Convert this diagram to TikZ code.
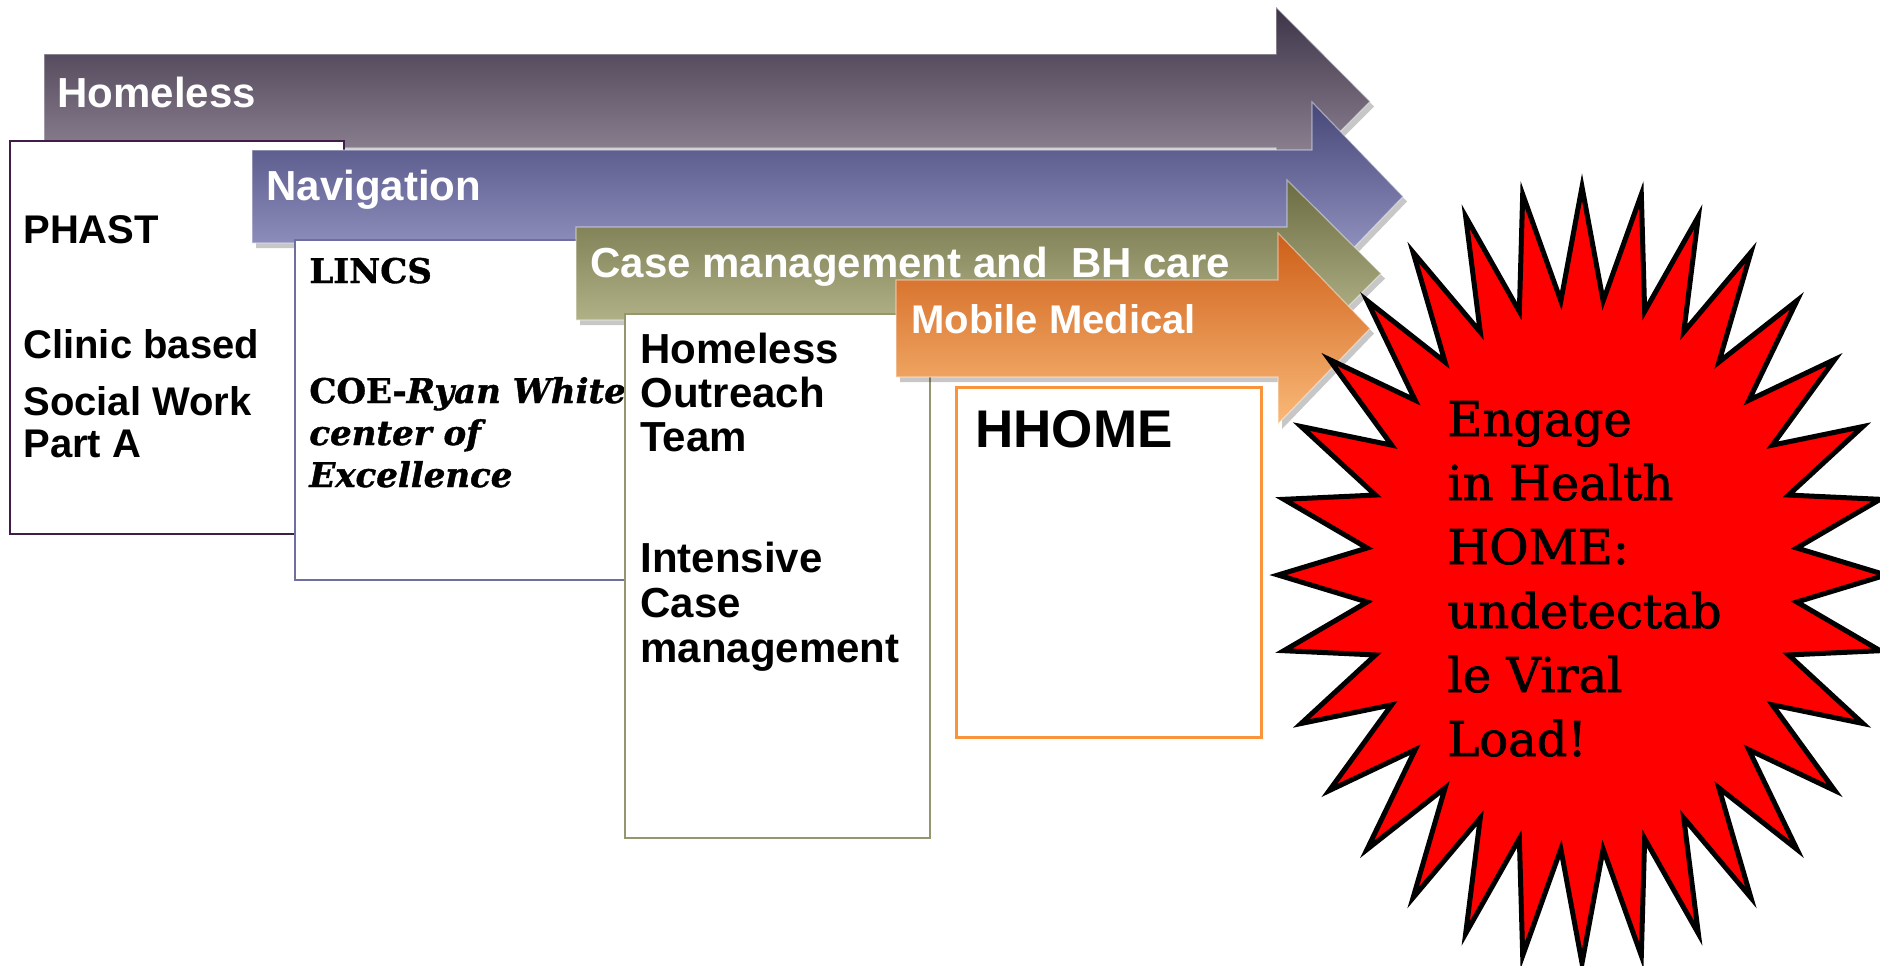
\documentclass[tikz,border=0pt]{standalone}
\usepackage{fontspec}
\setmainfont{Liberation Sans}
\newfontfamily\slabfont[FakeBold=1.2]{DejaVu Serif}
\newfontfamily\burstfont[FakeBold=1.5]{DejaVu Serif}
\usetikzlibrary{shadows}

\begin{document}
\begin{tikzpicture}[x=0.5pt,y=0.5pt,yscale=-1,xscale=1,
  band/.style={drop shadow={shadow xshift=2pt,shadow yshift=-2.5pt,opacity=0.22,fill=black},draw=white,draw opacity=0.45,line width=0.6pt},
  bandlabel/.style={anchor=base west,inner sep=0pt,text=white,font=\fontsize{21}{25}\selectfont\bfseries},
  stagebox/.style={fill=white,line width=1pt},
  stagetext/.style={anchor=base west,inner sep=0pt,align=left,font=\fontsize{20}{21}\selectfont\bfseries}
]
\useasboundingbox (0,0) rectangle (1880,965);

%Shape: Right Arrow [Homeless]
\draw [band,top color={rgb, 255:red, 62; green, 52; blue, 72 },bottom color={rgb, 255:red, 160; green, 150; blue, 165 }] (44,54) -- (1276,54) -- (1276,7) -- (1370,101.5) -- (1276,196) -- (1276,148) -- (44,148) -- cycle ;
% Text Node
\draw (57,107) node [bandlabel] (homeless) {Homeless};

%Shape: Rectangle [PHAST]
\draw [stagebox,draw={rgb, 255:red, 64; green, 28; blue, 72 }] (10,141) rectangle (344,534) ;
% Text Node
\draw (23,243) node [stagetext] (phast) {PHAST};
% Text Node
\draw (23,358) node [stagetext] (clinic) {Clinic based};
% Text Node (base = last line)
\draw (23,457) node [stagetext] (socialwork) {Social Work\\Part A};

%Shape: Right Arrow [Navigation]
\draw [band,top color={rgb, 255:red, 70; green, 70; blue, 120 },bottom color={rgb, 255:red, 165; green, 165; blue, 210 }] (252,150) -- (1312,150) -- (1312,102) -- (1403,196.5) -- (1312,291) -- (1312,243) -- (252,243) -- cycle ;
% Text Node
\draw (266,200) node [bandlabel] (navigation) {Navigation};

%Shape: Rectangle [LINCS]
\draw [stagebox,draw={rgb, 255:red, 110; green, 110; blue, 160 }] (295,240) rectangle (700,580) ;
% Text Node
\draw (309,283) node [stagetext,font=\slabfont\fontsize{17}{21}\selectfont\bfseries] (lincs) {LINCS};
% Text Node
\draw (309,487) node [stagetext,font=\slabfont\fontsize{17}{21}\selectfont\bfseries] (coe) {COE-\textit{Ryan White}\\\textit{center of}\\\textit{Excellence}};

%Shape: Right Arrow [Case management]
\draw [band,top color={rgb, 255:red, 108; green, 108; blue, 66 },bottom color={rgb, 255:red, 200; green, 200; blue, 158 }] (576,227) -- (1287,227) -- (1287,180) -- (1381,273.5) -- (1287,367) -- (1287,320) -- (576,320) -- cycle ;
% Text Node
\draw (590,277) node [bandlabel] (casemgmt) {Case management and~ BH care};

%Shape: Rectangle [Outreach]
\draw [stagebox,draw={rgb, 255:red, 150; green, 150; blue, 110 }] (625,314) rectangle (930,838) ;
% Text Node
\draw (640,451) node [stagetext,font=\fontsize{21}{22}\selectfont\bfseries] (outreach) {Homeless\\Outreach\\Team};
% Text Node
\draw (640,662) node [stagetext,font=\fontsize{21}{22.5}\selectfont\bfseries] (intensive) {Intensive\\Case\\management};

%Shape: Right Arrow [Mobile Medical]
\draw [band,top color={rgb, 255:red, 205; green, 95; blue, 25 },bottom color={rgb, 255:red, 250; green, 185; blue, 120 }] (896,280) -- (1278,280) -- (1278,233) -- (1370,328.5) -- (1278,424) -- (1278,377) -- (896,377) -- cycle ;
% Text Node
\draw (911,333) node [bandlabel,font=\fontsize{20}{24}\selectfont\bfseries] (mobile) {Mobile Medical};

%Shape: Rectangle [HHOME]
\draw [stagebox,line width=1.5pt,draw={rgb, 255:red, 247; green, 148; blue, 60 }] (956,387) rectangle (1261,737) ;
% Text Node
\draw (975,447) node [stagetext,font=\fontsize{26.5}{30}\selectfont\bfseries] (hhome) {HHOME};

%Shape: Starburst
\draw [fill={rgb, 255:red, 255; green, 0; blue, 0 },line width=2.5pt,line join=miter] plot [samples at={0,...,63},variable=\k] ({1582+(1-0.29*mod(\k,2))*304*cos(\k*5.625)},{575+(1-0.29*mod(\k,2))*388*sin(\k*5.625)}) -- cycle ;
% Text Node
\draw (1447,756) node [anchor=base west,inner sep=0pt,align=left,font=\burstfont\fontsize{24}{32}\selectfont] (engage) {Engage\\in Health\\HOME:\\undetectab\\le Viral\\Load!};

\end{tikzpicture}
\end{document}
